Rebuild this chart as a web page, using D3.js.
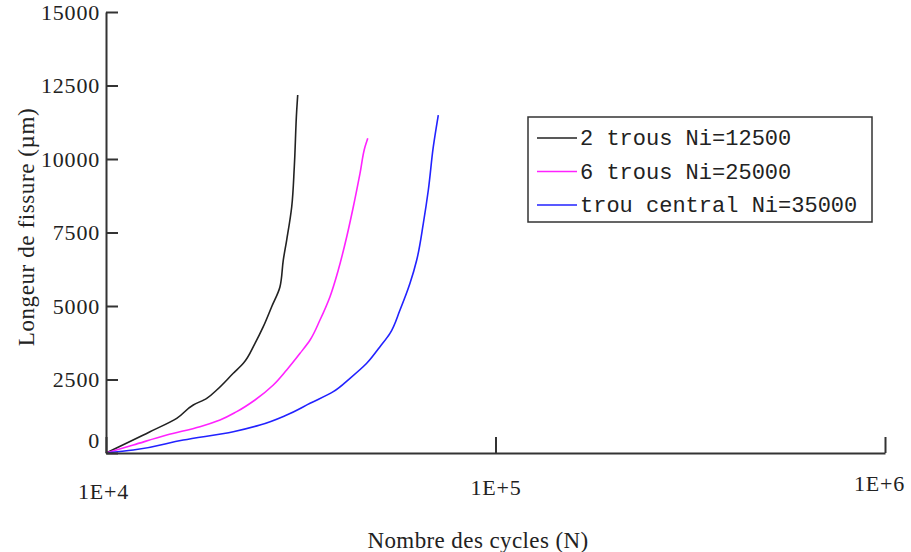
<!DOCTYPE html>
<html>
<head>
<meta charset="utf-8">
<script src="https://cdnjs.cloudflare.com/ajax/libs/d3/7.8.5/d3.min.js"></script>
<style>
  body { margin: 0; background: #fff; }
  text { font-family: "Liberation Serif", "Times New Roman", serif; fill: #222; }
</style>
</head>
<body>
<div id="canvas"></div>
<script>
"use strict"

/* ---------- data ---------- */
let xTicks = [1e4, 1e5, 1e6];
let yTicks = [0, 2500, 5000, 7500, 10000, 12500, 15000];

let seriesNames = ["2 trous Ni=12500", "6 trous Ni=25000", "trou central Ni=35000"];
let seriesColors = ["#222222", "#ff22ff", "#2222ff"];

/* cycles N, crack length (µm) */
let trous2N = [10000, 12970, 15190, 16750, 18140, 19240, 21220, 22520, 24130, 25340, 26630, 27970, 28520, 29100, 29980, 30440, 30880, 31060];
let trous2L = [0, 724, 1180, 1632, 1860, 2143, 2711, 3051, 3731, 4296, 4976, 5656, 6564, 7244, 8377, 9737, 11665, 12176];

let trous6N = [10000, 11750, 14320, 17430, 19620, 21660, 24130, 26890, 29100, 31490, 33410, 35430, 37590, 39480, 41500, 43150, 44890, 46240, 46980];
let trous6L = [0, 272, 612, 895, 1122, 1406, 1803, 2313, 2823, 3390, 3843, 4523, 5317, 6224, 7357, 8377, 9512, 10418, 10703];

let centralN = [10000, 11750, 15790, 21220, 24850, 29100, 33410, 38330, 42310, 46700, 50520, 53590, 56860, 60320, 62770, 65270, 67230, 69240, 71310];
let centralL = [0, 102, 442, 724, 952, 1292, 1690, 2086, 2540, 3051, 3617, 4070, 4864, 5771, 6564, 7811, 8945, 10418, 11495];

let seriesN = [trous2N, trous6N, centralN];
let seriesL = [trous2L, trous6L, centralL];

/* ---------- canvas ---------- */
let drawing = d3.select("#canvas")
  .append("svg")
  .attr("width", 911)
  .attr("height", 552);

let x = d3.scaleLog().domain([1e4, 1e6]).range([106, 885]);
let y = d3.scaleLinear().domain([0, 15000]).range([453, 12]);

/* ---------- curves ---------- */
let line = d3.line()
  .x(d => x(d[0]))
  .y(d => y(d[1]))
  .curve(d3.curveMonotoneY);

seriesN.forEach((ns, i) => {
  let pts = ns.map((n, j) => [n, seriesL[i][j]]);
  drawing.append("path")
    .attr("d", line(pts))
    .attr("fill", "none")
    .attr("stroke", seriesColors[i])
    .attr("stroke-width", 1.6);
});

/* ---------- axes ---------- */
let yAxis = drawing.append("g")
  .attr("transform", "translate(106,0)")
  .call(d3.axisLeft(y).tickValues(yTicks).tickSizeInner(-12).tickSizeOuter(0).tickPadding(6)
    .tickFormat(d3.format("d")));

let xAxis = drawing.append("g")
  .attr("transform", "translate(0,453)")
  .call(d3.axisBottom(x).tickValues(xTicks).tickSizeInner(-16).tickSizeOuter(0).tickPadding(26)
    .tickFormat(d => "1E+" + Math.round(Math.log10(d))));

[yAxis, xAxis].forEach(ax => {
  ax.select(".domain").attr("stroke", "#333").attr("stroke-width", 2);
  ax.selectAll(".tick line").attr("stroke", "#333").attr("stroke-width", 2);
  ax.selectAll(".tick text")
    .style("font-family", "Liberation Serif, serif")
    .style("font-size", "22px")
    .attr("letter-spacing", 0.8)
    .style("fill", "#222");
});

// zero label sits above the x axis
yAxis.selectAll(".tick text").filter(d => d === 0).attr("y", -13);
xAxis.selectAll(".tick text").filter(d => d === 1e6).attr("x", -6).attr("y", 22);
xAxis.selectAll(".tick text").filter(d => d === 1e4).attr("x", -3).attr("y", 30);

/* ---------- axis titles ---------- */
drawing.append("text")
  .attr("x", 478).attr("y", 548)
  .attr("text-anchor", "middle")
  .style("font-size", "23px")
  .attr("letter-spacing", 0.4)
  .text("Nombre des cycles (N)");

drawing.append("text")
  .attr("transform", "translate(34,227) rotate(-90)")
  .attr("text-anchor", "middle")
  .style("font-size", "23px")
  .attr("letter-spacing", 0.6)
  .text("Longeur de fissure (µm)");

/* ---------- legend ---------- */
let legend = drawing.append("g");
legend.append("rect")
  .attr("x", 528).attr("y", 117)
  .attr("width", 344).attr("height", 105)
  .attr("fill", "white")
  .attr("stroke", "#333")
  .attr("stroke-width", 1.5);

seriesNames.forEach((name, i) => {
  let ly = 138 + i * 33.5;
  legend.append("line")
    .attr("x1", 537).attr("x2", 577)
    .attr("y1", ly).attr("y2", ly)
    .attr("stroke", seriesColors[i])
    .attr("stroke-width", 1.5);
  legend.append("text")
    .attr("x", 580).attr("y", ly + 7)
    .style("font-family", "'Liberation Mono', 'DejaVu Sans Mono', monospace")
    .style("font-size", "22px")
    .text(name);
});
</script>
</body>
</html>
